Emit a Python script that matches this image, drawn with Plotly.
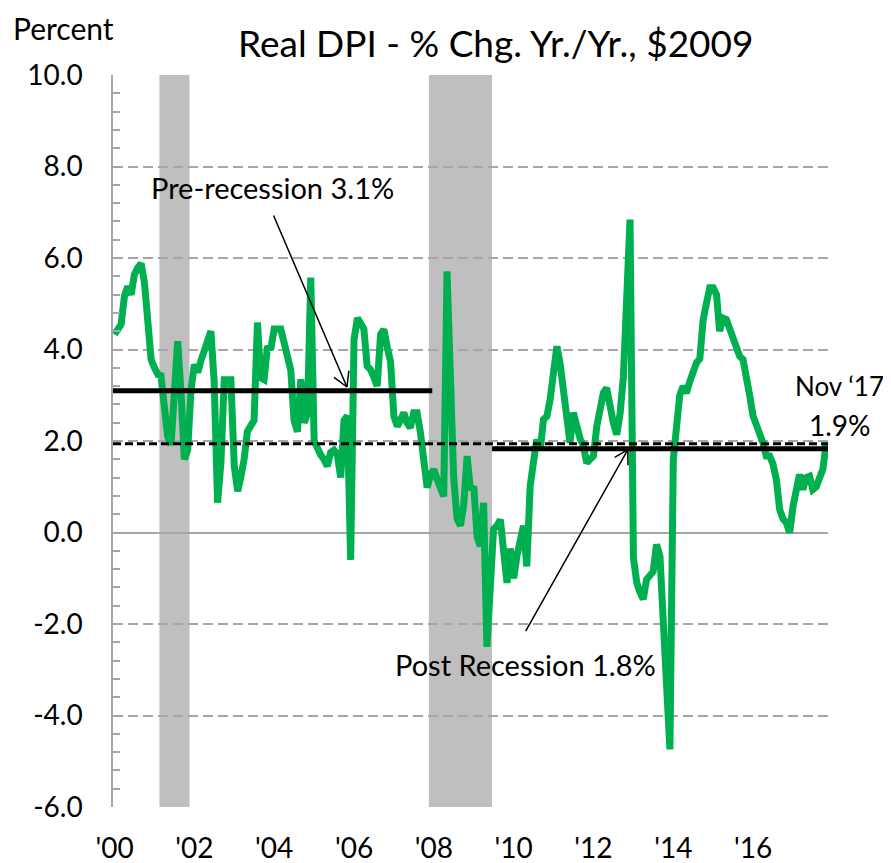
import math
import pandas as pd
import plotly.graph_objects as go

# ---------------- data ----------------
START_MONTH = "2000-01-01"
dpi_2000 = [4.33, 4.45, 4.55, 5.17, 5.38, 5.20, 5.64, 5.79, 5.88, 5.46, 4.37, 3.78]
dpi_2001 = [3.60, 3.45, 3.43, 2.76, 2.10, 1.92, 3.00, 4.18, 3.05, 1.60, 1.81, 3.13]
dpi_2002 = [3.67, 3.50, 3.75, 4.00, 4.25, 4.40, 3.30, 0.65, 1.53, 3.34, 3.34, 3.34]
dpi_2003 = [1.45, 0.90, 1.20, 1.60, 2.21, 2.35, 2.45, 4.59, 3.38, 3.34, 4.07, 4.00]
dpi_2004 = [4.45, 4.45, 4.45, 4.15, 3.90, 3.55, 2.45, 2.20, 3.35, 2.40, 2.60, 5.57]
dpi_2005 = [2.00, 1.80, 1.70, 1.60, 1.45, 1.75, 1.80, 1.70, 1.20, 2.45, 2.55, -0.60]
dpi_2006 = [4.22, 4.69, 4.55, 4.45, 3.64, 3.56, 3.40, 3.20, 4.33, 4.44, 4.05, 3.74]
dpi_2007 = [2.54, 2.32, 2.45, 2.62, 2.40, 2.29, 2.62, 2.62, 2.18, 1.38, 0.98, 1.25]
dpi_2008 = [1.38, 1.16, 1.00, 0.79, 5.71, 3.30, 1.20, 0.30, 0.15, 0.60, 1.67, 0.94]
dpi_2009 = [1.00, -0.10, -0.30, 0.65, -2.50, -1.20, 0.07, 0.15, 0.28, -0.40, -1.10, -0.35]
dpi_2010 = [-1.00, -0.50, -0.20, 0.15, -0.74, 1.01, 1.53, 2.03, 1.80, 2.47, 2.54, 2.91]
dpi_2011 = [3.50, 4.07, 3.71, 3.20, 2.69, 1.96, 2.62, 2.25, 2.05, 1.89, 1.52, 1.60]
dpi_2012 = [1.67, 2.32, 2.75, 3.05, 3.16, 2.70, 2.40, 2.14, 2.60, 3.40, 5.05, 6.84]
dpi_2013 = [-0.55, -1.10, -1.30, -1.46, -1.03, -0.90, -0.85, -0.26, -0.52, -1.93, -3.33, -4.74]
dpi_2014 = [1.60, 2.50, 3.00, 3.20, 3.05, 3.30, 3.50, 3.71, 3.80, 4.65, 5.02, 5.35]
dpi_2015 = [5.35, 5.20, 4.40, 4.69, 4.66, 4.45, 4.20, 3.95, 3.85, 3.78, 3.45, 3.00]
dpi_2016 = [2.55, 2.35, 2.25, 1.96, 1.67, 1.67, 1.50, 1.16, 0.50, 0.30, 0.21, 0.00]
dpi_2017 = [0.57, 1.01, 1.27, 0.94, 1.20, 1.23, 0.94, 1.00, 1.16, 1.38, 1.96]

dpi_values = (dpi_2000 + dpi_2001 + dpi_2002 + dpi_2003 + dpi_2004 + dpi_2005 +
              dpi_2006 + dpi_2007 + dpi_2008 + dpi_2009 + dpi_2010 + dpi_2011 +
              dpi_2012 + dpi_2013 + dpi_2014 + dpi_2015 + dpi_2016 + dpi_2017)

recessions = [("2001-03-01", "2001-12-01"), ("2007-12-01", "2009-07-01")]

pre_period = ["2000-01-01", "2008-01-01"]
pre_avg = 3.1
post_period = ["2009-07-01", "2017-12-01"]
post_avg = 1.83
latest_period = ["2000-01-01", "2017-12-01"]
latest_value = 1.94

y_ticks = [-6, -4, -2, 0, 2, 4, 6, 8, 10]
y_ticktext = ["-6.0", "-4.0", "-2.0", "0.0", "2.0", "4.0", "6.0", "8.0", "10.0"]
x_tick_years = [2000, 2002, 2004, 2006, 2008, 2010, 2012, 2014, 2016]
x_ticktext = ["'00", "'02", "'04", "'06", "'08", "'10", "'12", "'14", "'16"]

X_RANGE = ["2000-01-01", "2017-12-01"]
Y_RANGE = [-6, 10]

# ---------------- figure ----------------
months = pd.date_range(START_MONTH, periods=len(dpi_values), freq="MS") + pd.Timedelta(days=14)
x_tickvals = [f"{y}-01-15" for y in x_tick_years]

FONT = "Lato"
GREEN = "#00B050"
GRID = "#A6A6A6"

# page has an 8px body margin; figure sized so plot sits where the reference has it
OFF = 8
W, H = 891 - OFF, 863 - OFF
PL, PT, PW, PH = 113 - OFF, 75 - OFF, 715, 732
L, T = PL, PT
R = W - PL - PW
B = H - PT - PH


def px_to_paper(px, py):
    """page pixel position -> paper coordinates"""
    return ((px - OFF) - PL) / PW, 1 - ((py - OFF) - PT) / PH


fig = go.Figure()

fig.add_trace(go.Scatter(x=months, y=dpi_values, mode="lines",
                         line=dict(color=GREEN, width=7), hoverinfo="skip"))
fig.add_trace(go.Scatter(x=latest_period, y=[latest_value] * 2, mode="lines",
                         line=dict(color="black", width=3, dash="8px,4px")))
fig.add_trace(go.Scatter(x=pre_period, y=[pre_avg] * 2, mode="lines",
                         line=dict(color="black", width=5)))
fig.add_trace(go.Scatter(x=post_period, y=[post_avg] * 2, mode="lines",
                         line=dict(color="black", width=5)))

for x0, x1 in recessions:
    fig.add_shape(type="rect", xref="x", yref="paper", x0=x0, x1=x1, y0=0, y1=1,
                  fillcolor="#BFBFBF", line=dict(width=0), layer="below")

annotations = []


def open_arrow(x, y, ax, ay, arm=18, ang=30):
    out = [dict(x=x, y=y, xref="x", yref="y", ax=ax, ay=ay, text="", showarrow=True,
                arrowhead=0, arrowwidth=1.5, arrowcolor="black", standoff=0)]
    n = math.hypot(ax, ay)
    ux, uy = ax / n, ay / n
    for s in (1, -1):
        a = math.radians(ang * s)
        rx = ux * math.cos(a) - uy * math.sin(a)
        ry = ux * math.sin(a) + uy * math.cos(a)
        out.append(dict(x=x, y=y, xref="x", yref="y", ax=rx * arm, ay=ry * arm, text="",
                        showarrow=True, arrowhead=0, arrowwidth=1.5, arrowcolor="black",
                        standoff=0))
    return out


annotations += open_arrow("2005-11-11", 3.18, -74, -173)
annotations += open_arrow("2012-11-25", 1.81, -103, 183, arm=17)

text_font = dict(family=FONT, size=29, color="black")


def page_text(text, px, py, size, xanchor="center", yanchor="middle"):
    x, y = px_to_paper(px, py)
    return dict(x=x, y=y, xref="paper", yref="paper", text=text, showarrow=False,
                xanchor=xanchor, yanchor=yanchor,
                font=dict(family=FONT, size=size, color="black"))


annotations += [
    dict(x="2004-01-01", y=7.55, xref="x", yref="y", text="Pre-recession 3.1%",
         showarrow=False, font=text_font, xanchor="center", yanchor="middle"),
    dict(x="2010-05-01", y=-2.88, xref="x", yref="y", text="Post Recession 1.8%",
         showarrow=False, font=text_font, xanchor="center", yanchor="middle"),
    page_text("Nov \u201817", 839, 386, 26),
    page_text("1.9%", 840, 425, 28),
    page_text("Percent", 11, 8, 30, xanchor="left", yanchor="top"),
    page_text("Real DPI - % Chg. Yr./Yr., $2009", 495, 43, 37),
]

fig.update_layout(
    width=W, height=H,
    margin=dict(l=L, r=R, t=T, b=B, pad=0, autoexpand=False),
    paper_bgcolor="white", plot_bgcolor="white",
    showlegend=False,
    font=dict(family=FONT, size=28, color="black"),
    annotations=annotations,
)

fig.update_xaxes(
    type="date", range=X_RANGE, tickmode="array", tickvals=x_tickvals, ticktext=x_ticktext,
    showgrid=False, zeroline=False, showline=False, ticks="",
    tickfont=dict(family=FONT, size=28), ticklabelstandoff=22,
)
fig.update_yaxes(
    range=Y_RANGE, tickmode="array", tickvals=y_ticks, ticktext=y_ticktext,
    showgrid=True, gridcolor=GRID, griddash="10px,5px", gridwidth=1.5,
    zeroline=True, zerolinecolor=GRID, zerolinewidth=1.5,
    showline=True, linecolor=GRID, linewidth=1.5,
    ticks="inside", ticklen=7, tickcolor=GRID, tickwidth=1.5,
    minor=dict(tickmode="linear", tick0=-6, dtick=0.4, ticks="inside", ticklen=7,
               tickcolor=GRID, tickwidth=1.5, showgrid=False),
    tickfont=dict(family=FONT, size=28), ticklabelstandoff=23,
)

fig.write_html("out.html")
